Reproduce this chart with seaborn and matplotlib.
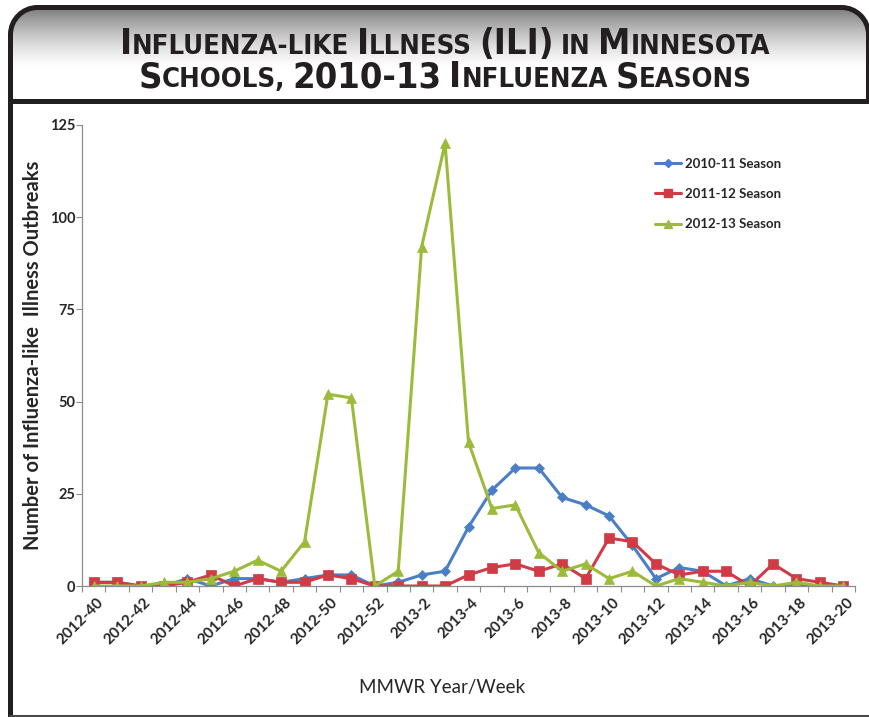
import numpy as np
import pandas as pd
import matplotlib
matplotlib.use("Agg")
import matplotlib.pyplot as plt
import seaborn as sns
from matplotlib.patches import PathPatch
from matplotlib.path import Path
from matplotlib.lines import Line2D
from matplotlib import font_manager as fm
import matplotlib.transforms as mtrans

# ---------------- data ----------------
weeks = ["2012-40", "2012-41", "2012-42", "2012-43", "2012-44", "2012-45", "2012-46",
         "2012-47", "2012-48", "2012-49", "2012-50", "2012-51", "2012-52",
         "2013-1", "2013-2", "2013-3", "2013-4", "2013-5", "2013-6", "2013-7",
         "2013-8", "2013-9", "2013-10", "2013-11", "2013-12", "2013-13", "2013-14",
         "2013-15", "2013-16", "2013-17", "2013-18", "2013-19", "2013-20"]
season_names = ["2010-11 Season", "2011-12 Season", "2012-13 Season"]
season_2010_11 = [1, 1, 0, 0, 2, 0, 2, 2, 1, 2, 3, 3, 0,
                  1, 3, 4, 16, 26, 32, 32, 24, 22, 19, 11, 2, 5, 4, 0, 2, 0, 0, 0, 0]
season_2011_12 = [1, 1, 0, 0, 1, 3, 0, 2, 1, 1, 3, 2, 0,
                  0, 0, 0, 3, 5, 6, 4, 6, 2, 13, 12, 6, 3, 4, 4, 0, 6, 2, 1, 0]
season_2012_13 = [0, 0, 0, 1, 1, 2, 4, 7, 4, 12, 52, 51, 0,
                  4, 92, 120, 39, 21, 22, 9, 4, 6, 2, 4, 0, 2, 1, 0, 1, 0, 1, 0, 0]
y_ticks = [0, 25, 50, 75, 100, 125]

colors = ["#4A7FC8", "#D13B45", "#9CBB3B"]
markers = ["D", "s", "^"]
msizes = [5.0, 6.5, 7.0]

frames = []
for name, vals in zip(season_names, [season_2010_11, season_2011_12, season_2012_13]):
    frames.append(pd.DataFrame({"idx": np.arange(len(weeks)), "week": weeks,
                                "count": vals, "season": name}))
df = pd.concat(frames, ignore_index=True)

# ---------------- style ----------------
sns.set_theme(style="white")
plt.rcParams["font.family"] = ["Lato", "DejaVu Sans"]


def font_ok(**kw):
    try:
        return fm.findfont(fm.FontProperties(**kw), fallback_to_default=False)
    except Exception:
        return None


title_kw = dict(family=["Liberation Sans"], weight="bold")
if font_ok(family="Liberation Sans Narrow", weight="bold"):
    title_kw = dict(family=["Liberation Sans Narrow"], weight="bold")
else:
    p = font_ok(family="DejaVu Sans", weight="bold", stretch="condensed")
    if p and "ondensed" in p:
        title_kw = dict(family=["DejaVu Sans"], weight="bold", stretch="condensed")

W, H = 870, 717
fig = plt.figure(figsize=(W / 100, H / 100), dpi=100)

# background / frame
bg = fig.add_axes([0, 0, 1, 1], zorder=0)
bg.set_xlim(0, W)
bg.set_ylim(H, 0)
bg.axis("off")

frame_col = "#231f20"
L, T, R, r, k = 10.5, 7.5, 868.5, 27.0, 0.5523
outline_v = [(L, 720), (L, T + r),
             (L, T + r - k * r), (L + r - k * r, T), (L + r, T),
             (R - r, T),
             (R - r + k * r, T), (R, T + r - k * r), (R, T + r),
             (R, 101)]
outline_c = [Path.MOVETO, Path.LINETO, Path.CURVE4, Path.CURVE4, Path.CURVE4,
             Path.LINETO, Path.CURVE4, Path.CURVE4, Path.CURVE4, Path.LINETO]
clip_path = Path(outline_v[1:-1] + [(R, 101), (L, 101), (L, T + r)],
                 [Path.MOVETO] + outline_c[2:-1] + [Path.LINETO, Path.LINETO, Path.CLOSEPOLY])
clip = PathPatch(clip_path, fc="none", ec="none")
bg.add_patch(clip)
yy = np.linspace(7, 101, 200)
t = np.clip((yy - 7) / 62.0, 0, 1)
g = 1 - 0.52 * (1 - t) ** 1.4
im = bg.imshow(g[:, None], extent=[10, 870, 101, 7], aspect="auto",
               cmap="gray", vmin=0, vmax=1, interpolation="bilinear")
im.set_clip_path(clip)
bg.add_patch(PathPatch(Path(outline_v, outline_c), fc="none", ec=frame_col, lw=3.6,
                       joinstyle="round"))
bg.plot([10, 872], [100.5, 100.5], color=frame_col, lw=3.6, solid_capstyle="butt")
bg.plot([10, 872], [716, 716], color="#4a4a4a", lw=1.5)

# title with small caps
BIG, SMALL = 25, 19
title_lines = [
    (54, [[("I", 1), ("NFLUENZA-LIKE", 0)], [("I", 1), ("LLNESS", 0)], [("(ILI)", 1)],
          [("IN", 0)], [("M", 1), ("INNESOTA", 0)]]),
    (87, [[("S", 1), ("CHOOLS,", 0)], [("2010-13", 1)], [("I", 1), ("NFLUENZA", 0)],
          [("S", 1), ("EASONS", 0)]]),
]
fig.canvas.draw()
renderer = fig.canvas.get_renderer()


def draw_title(big, small, measure_only=False):
    widths = []
    created = []
    space = 0.27 * small * 100 / 72
    for ybase, words in title_lines:
        items = []
        total = 0
        for wi, word in enumerate(words):
            for s, isbig in word:
                tx = bg.text(0, ybase, s, fontsize=big if isbig else small,
                             color=frame_col, ha="left", va="baseline", **title_kw)
                w = tx.get_window_extent(renderer).width
                items.append((tx, total))
                total += w
            if wi < len(words) - 1:
                total += space
        widths.append(total)
        x0 = 445 - total / 2
        for tx, off in items:
            tx.set_x(x0 + off)
            created.append(tx)
    if measure_only:
        for tx in created:
            tx.remove()
    return widths


w1 = draw_title(BIG, SMALL, measure_only=True)[0]
scale = float(np.clip(650.0 / w1, 0.9, 1.12))
draw_title(BIG * scale, SMALL * scale)

# ---------------- main axes ----------------
ax = fig.add_axes([82 / W, 1 - 586 / H, (855 - 82) / W, (586 - 125) / H], zorder=2)
ax.patch.set_alpha(0)
sns.lineplot(data=df, x="idx", y="count", hue="season", style="season",
             palette=colors, markers=markers, dashes=False, linewidth=2.2,
             legend=False, ax=ax)
for line, c, ms in zip(ax.lines, colors, msizes):
    line.set_markeredgecolor(c)
    line.set_markerfacecolor(c)
    line.set_markersize(ms)
    line.set_markeredgewidth(0.5)

ax.set_xlim(-0.5, len(weeks) - 0.5)
ax.set_ylim(0, 125)
ax.set_yticks(y_ticks)
ax.set_yticklabels([str(v) for v in y_ticks], fontsize=10.5, fontweight="bold")
ax.set_xticks(np.arange(0, len(weeks), 2))
ax.set_xticklabels(weeks[::2], fontsize=11, fontweight="bold", rotation=45,
                   ha="right", va="top", rotation_mode="anchor")
ax.set_xticks(np.arange(-0.5, len(weeks), 1), minor=True)
ax.tick_params(axis="x", which="major", length=0, pad=7)
ax.tick_params(axis="x", which="minor", length=4, width=0.8, color="#8c8c8c",
               direction="out", bottom=True)
ax.tick_params(axis="y", which="major", length=4, width=0.8, color="#8c8c8c",
               direction="out", left=True, pad=1)
for sp in ["top", "right"]:
    ax.spines[sp].set_visible(False)
for sp in ["left", "bottom"]:
    ax.spines[sp].set_color("#8c8c8c")
    ax.spines[sp].set_linewidth(0.9)
offset = mtrans.ScaledTranslation(3 / 100, 0, fig.dpi_scale_trans)
for lab in ax.get_xticklabels():
    lab.set_transform(lab.get_transform() + offset)

ax.set_ylabel("Number of Influenza-like  Illness Outbreaks", fontsize=14.5, fontweight="bold")
ax.yaxis.set_label_coords((33 - 82) / (855 - 82), 0.5)
ax.yaxis.label.set_va("center")
ax.set_xlabel("MMWR Year/Week", fontsize=13.5)
ax.xaxis.set_label_coords((442 - 82) / (855 - 82), -(688 - 586) / (586 - 125))
ax.xaxis.label.set_va("center")

handles = [Line2D([], [], color=c, marker=m, markersize=ms - 1, lw=2.2, mec=c)
           for c, m, ms in zip(colors, markers, msizes)]
leg = ax.legend(handles, season_names, loc="upper left",
                bbox_to_anchor=(643 / W, 1 - 146 / H), bbox_transform=fig.transFigure,
                frameon=False, handlelength=2.0, handletextpad=0.3, labelspacing=1.38,
                prop={"weight": "bold", "size": 9.5})

fig.savefig("out.png", dpi=100)
